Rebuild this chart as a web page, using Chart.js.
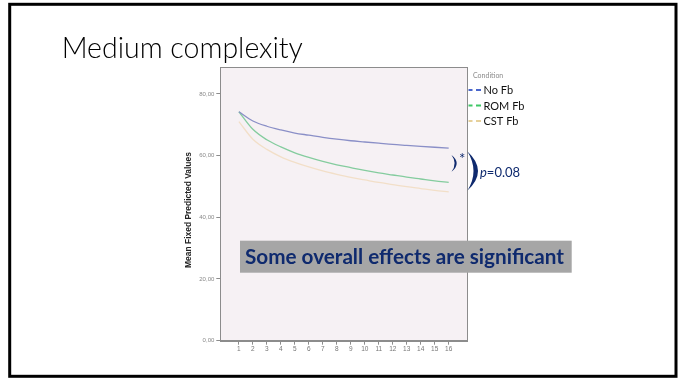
<!DOCTYPE html>
<html>
<head>
<meta charset="utf-8">
<script src="https://cdn.jsdelivr.net/npm/chart.js@4/dist/chart.umd.min.js"></script>
<style>
  html, body { margin: 0; padding: 0; background: #fff; }
  #wrap { width: 686px; height: 378px; }
</style>
</head>
<body>
<div id="wrap"><canvas id="c" width="686" height="378"></canvas></div>
<script>
// ---- data ----
const sessions = [1, 2, 3, 4, 5, 6, 7, 8, 9, 10, 11, 12, 13, 14, 15, 16];
const noFb  = [74.2, 71.2, 69.5, 68.3, 67.3, 66.6, 65.9, 65.3, 64.8, 64.4, 64.0, 63.6, 63.3, 63.0, 62.7, 62.4];
const romFb = [74.2, 68.5, 65.1, 62.8, 60.9, 59.4, 58.1, 57.0, 56.1, 55.2, 54.4, 53.7, 53.0, 52.4, 51.8, 51.3];
const cstFb = [71.0, 65.3, 62.0, 59.6, 57.8, 56.3, 55.0, 53.9, 52.9, 52.1, 51.3, 50.6, 49.9, 49.3, 48.7, 48.2];
const yTickValues = [0, 20, 40, 60, 80];
const seriesNames = ['No Fb', 'ROM Fb', 'CST Fb'];
const titleText = 'Medium complexity';
const yAxisTitle = 'Mean Fixed Predicted Values';
const legendTitle = 'Condition';
const noteText = 'Some overall effects are significant';

const lineColors = ['#8a8fc7', '#84cc9e', '#f2dfc8'];
const legendColors = ['#4a66cc', '#3ec766', '#e6d09a'];
const navy = '#0f2a6e';

function pts(arr) { return sessions.map((s, i) => ({ x: s, y: arr[i] })); }

const decor = {
  id: 'decor',
  beforeDraw(chart) {
    const ctx = chart.ctx, a = chart.chartArea;
    ctx.save();
    ctx.fillStyle = '#ffffff';
    ctx.fillRect(0, 0, chart.width, chart.height);
    ctx.fillStyle = '#f6f1f4';
    ctx.fillRect(a.left, a.top, a.right - a.left, a.bottom - a.top);
    ctx.restore();
  },
  afterDraw(chart) {
    const ctx = chart.ctx, a = chart.chartArea;
    ctx.save();
    // plot frame
    ctx.strokeStyle = '#8c8c8c';
    ctx.lineWidth = 1;
    ctx.strokeRect(Math.round(a.left) + 0.5, Math.round(a.top) + 0.5,
                   Math.round(a.right - a.left), Math.round(a.bottom - a.top));
    // slide frame
    ctx.strokeStyle = '#000';
    ctx.lineWidth = 3;
    ctx.strokeRect(9.7, 4.3, 666.3, 372);

    // title
    ctx.fillStyle = '#000';
    ctx.textBaseline = 'alphabetic';
    ctx.font = '300 100px Lato';
    let w = ctx.measureText(titleText).width;
    let fs = 100 * 241 / w;
    ctx.font = '300 ' + fs.toFixed(1) + 'px Lato';
    ctx.fillText(titleText, 61.7, 58.3);

    // y axis title
    ctx.save();
    ctx.translate(191, 210);
    ctx.rotate(-Math.PI / 2);
    ctx.fillStyle = '#222';
    ctx.font = 'bold 100px "Liberation Sans"';
    w = ctx.measureText(yAxisTitle).width;
    fs = 100 * 116 / w;
    ctx.font = 'bold ' + fs.toFixed(2) + 'px "Liberation Sans"';
    ctx.textAlign = 'center';
    ctx.textBaseline = 'alphabetic';
    ctx.fillText(yAxisTitle, 0, 0);
    ctx.restore();

    // legend
    ctx.fillStyle = '#8a8a8a';
    ctx.font = '7px Lato';
    ctx.textBaseline = 'middle';
    ctx.fillText(legendTitle, 473, 75.5);
    chart.data.datasets.forEach((ds, i) => {
      const y = 90 + i * 15.5;
      ctx.strokeStyle = legendColors[i];
      ctx.lineWidth = 2;
      ctx.beginPath();
      ctx.moveTo(468.5, y); ctx.lineTo(472.5, y);
      ctx.moveTo(476, y); ctx.lineTo(481, y);
      ctx.stroke();
      ctx.fillStyle = '#111';
      ctx.font = '11px Lato';
      ctx.fillText(ds.label, 483.5, y + 0.5);
    });

    // brackets
    ctx.fillStyle = navy;
    ctx.beginPath();
    ctx.moveTo(451.5, 155);
    ctx.quadraticCurveTo(462, 163.3, 451.5, 171.7);
    ctx.quadraticCurveTo(457.8, 163.3, 451.5, 155);
    ctx.fill();
    ctx.beginPath();
    ctx.moveTo(467.5, 151.5);
    ctx.quadraticCurveTo(488.5, 171, 467.5, 190.5);
    ctx.quadraticCurveTo(479.5, 171, 467.5, 151.5);
    ctx.fill();
    ctx.font = '15px Lato';
    ctx.textBaseline = 'alphabetic';
    ctx.fillText('*', 459, 164);
    ctx.font = 'italic 13px Lato';
    ctx.fillText('p', 480, 176.5);
    const pw = ctx.measureText('p').width;
    ctx.font = '13px Lato';
    ctx.fillText('=0.08', 480 + pw, 176.5);

    // note box
    ctx.fillStyle = '#a6a6a6';
    ctx.fillRect(240, 240.7, 331.7, 32);
    ctx.fillStyle = navy;
    ctx.font = 'bold 100px Lato';
    w = ctx.measureText(noteText).width;
    fs = 100 * 320 / w;
    ctx.font = 'bold ' + fs.toFixed(1) + 'px Lato';
    ctx.fillText(noteText, 245, 264.3);
    ctx.restore();
  }
};

new Chart(document.getElementById('c'), {
  type: 'line',
  data: {
    datasets: [noFb, romFb, cstFb].map((arr, i) => ({
      label: seriesNames[i],
      data: pts(arr),
      borderColor: lineColors[i],
      borderWidth: 1.3,
      pointRadius: 0,
      cubicInterpolationMode: 'monotone',
      fill: false
    }))
  },
  plugins: [decor],
  options: {
    responsive: false,
    animation: false,
    devicePixelRatio: 1,
    layout: { padding: { left: 180, top: 67, right: 218.7, bottom: 17 } },
    plugins: { legend: { display: false }, tooltip: { enabled: false }, title: { display: false } },
    scales: {
      x: {
        type: 'linear',
        min: -0.33, max: 17.33,
        afterBuildTicks(s) { s.ticks = sessions.map(v => ({ value: v })); },
        afterFit(s) { s.height = 20.3; },
        grid: { drawOnChartArea: false, drawTicks: true, tickLength: 4, color: '#8c8c8c' },
        border: { display: true, color: '#8c8c8c' },
        ticks: { color: '#777', font: { size: 6.5, family: 'Liberation Sans' }, padding: 1, maxRotation: 0, autoSkip: false, callback: v => String(v) }
      },
      y: {
        min: 0, max: 88.7,
        afterBuildTicks(s) { s.ticks = yTickValues.map(v => ({ value: v })); },
        afterFit(s) { s.width = 40.3; },
        grid: { drawOnChartArea: false, drawTicks: true, tickLength: 4, color: '#8c8c8c' },
        border: { display: true, color: '#8c8c8c' },
        ticks: { color: '#888', font: { size: 6, family: 'Liberation Sans' }, padding: 2, callback: v => v.toFixed(2).replace('.', ',') }
      }
    }
  }
});
</script>
</body>
</html>
